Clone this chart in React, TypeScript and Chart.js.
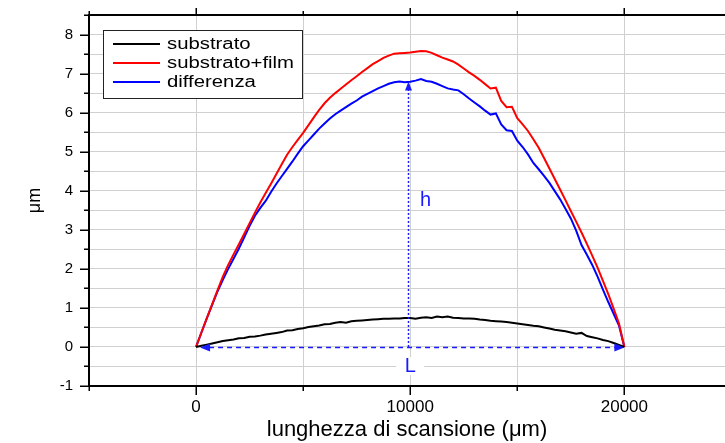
import React, { useEffect, useRef } from "react";
import { Chart, registerables } from "chart.js";

Chart.register(...registerables);

const FONT = "'Liberation Sans', Arial, Helvetica, sans-serif";

// scan positions (µm)
const scanX = [
  0, 250, 500, 750, 1000, 1250, 1500, 1750, 2000, 2250,
  2500, 2750, 3000, 3250, 3500, 3750, 4000, 4250, 4500, 4750,
  5000, 5250, 5500, 5750, 6000, 6250, 6500, 6750, 7000, 7250,
  7500, 7750, 8000, 8250, 8500, 8750, 9000, 9250, 9500, 9750,
  10000, 10250, 10500, 10750, 11000, 11250, 11500, 11750, 12000, 12250,
  12500, 12750, 13000, 13250, 13500, 13750, 14000, 14250, 14500, 14750,
  15000, 15250, 15500, 15750, 16000, 16250, 16500, 16750, 17000, 17250,
  17500, 17750, 18000, 18250, 18500, 18750, 19000, 19250, 19500, 19750,
  20000,
];

const substrato = [
  0.00, 0.03, 0.06, 0.09, 0.12, 0.15, 0.17, 0.19, 0.22, 0.23,
  0.26, 0.27, 0.29, 0.32, 0.34, 0.36, 0.38, 0.42, 0.43, 0.46,
  0.48, 0.51, 0.53, 0.55, 0.58, 0.59, 0.62, 0.64, 0.62, 0.66,
  0.67, 0.68, 0.69, 0.70, 0.71, 0.72, 0.72, 0.73, 0.73, 0.74,
  0.74, 0.72, 0.75, 0.76, 0.74, 0.78, 0.76, 0.78, 0.75, 0.74,
  0.73, 0.73, 0.72, 0.70, 0.69, 0.67, 0.66, 0.65, 0.64, 0.62,
  0.60, 0.58, 0.56, 0.54, 0.53, 0.50, 0.47, 0.44, 0.42, 0.40,
  0.37, 0.34, 0.36, 0.28, 0.25, 0.22, 0.18, 0.15, 0.10, 0.05,
  0.00,
];

const substratoFilm = [
  0.00, 0.37, 0.73, 1.09, 1.45, 1.80, 2.10, 2.37, 2.63, 2.90,
  3.17, 3.44, 3.70, 3.94, 4.18, 4.43, 4.68, 4.92, 5.12, 5.30,
  5.48, 5.68, 5.88, 6.07, 6.24, 6.38, 6.50, 6.61, 6.72, 6.83,
  6.93, 7.04, 7.14, 7.24, 7.32, 7.40, 7.46, 7.51, 7.52, 7.53,
  7.54, 7.56, 7.58, 7.57, 7.53, 7.47, 7.41, 7.36, 7.31, 7.23,
  7.13, 7.03, 6.94, 6.84, 6.73, 6.62, 6.64, 6.30, 6.14, 6.15,
  5.86, 5.70, 5.53, 5.32, 5.10, 4.84, 4.57, 4.30, 4.03, 3.76,
  3.48, 3.21, 2.93, 2.64, 2.34, 2.03, 1.69, 1.35, 0.98, 0.60,
  0.00,
];

const differenza = [
  0.00, 0.37, 0.73, 1.08, 1.42, 1.72, 2.00, 2.26, 2.52, 2.81,
  3.10, 3.36, 3.56, 3.74, 3.97, 4.18, 4.37, 4.56, 4.75, 4.95,
  5.14, 5.29, 5.44, 5.59, 5.72, 5.85, 5.96, 6.05, 6.14, 6.23,
  6.31, 6.41, 6.48, 6.55, 6.62, 6.68, 6.74, 6.78, 6.80, 6.78,
  6.79, 6.82, 6.86, 6.81, 6.79, 6.74, 6.68, 6.62, 6.59, 6.57,
  6.47, 6.36, 6.26, 6.16, 6.05, 5.95, 5.98, 5.70, 5.55, 5.53,
  5.28, 5.12, 4.93, 4.71, 4.55, 4.38, 4.20, 3.99, 3.78, 3.54,
  3.29, 2.98, 2.61, 2.36, 2.10, 1.80, 1.47, 1.15, 0.85, 0.55,
  0.00,
];

const seriesLabels = ["substrato", "substrato+film", "differenza"];
const seriesColors = ["#000000", "#ff0000", "#0000ff"];
const seriesValues = [substrato, substratoFilm, differenza];

const xTickValues = [-5000, 0, 5000, 10000, 15000, 20000];
const xTickLabels = [0, 10000, 20000];
const xMin = -5000;
const xMax = 24700;
const yMin = -1;
const yMax = 8.5;

// annotation anchors (data units)
const lengthArrow = [0, 20000];
const heightArrow = [9900, 0, 6.8];
const hLabel = [10720, 3.76];
const lLabel = [10000, -0.49];

const ANNOT_BLUE = "#1a1aff";

function arrowHead(ctx: CanvasRenderingContext2D, tipX: number, tipY: number, dx: number, dy: number, len: number, half: number) {
  const bx = tipX - dx * len;
  const by = tipY - dy * len;
  const px = -dy;
  const py = dx;
  ctx.beginPath();
  ctx.moveTo(tipX, tipY);
  ctx.lineTo(bx + px * half, by + py * half);
  ctx.lineTo(bx - px * half, by - py * half);
  ctx.closePath();
  ctx.fill();
}

const decorPlugin = {
  id: "decor",
  afterDatasetsDraw(chart: any) {
    const { ctx, scales } = chart;
    const xs = scales.x;
    const ys = scales.y;
    ctx.save();
    ctx.strokeStyle = ANNOT_BLUE;
    ctx.fillStyle = ANNOT_BLUE;
    ctx.lineWidth = 1.5;

    // L: horizontal dashed double arrow
    const yL = Math.round(ys.getPixelForValue(0)) + 0.5;
    const xa = xs.getPixelForValue(lengthArrow[0]) + 4;
    const xb = xs.getPixelForValue(lengthArrow[1]);
    ctx.setLineDash([5, 4]);
    ctx.beginPath();
    ctx.moveTo(xa + 9, yL);
    ctx.lineTo(xb - 9, yL);
    ctx.stroke();
    ctx.setLineDash([]);
    arrowHead(ctx, xa, yL, -1, 0, 10, 4);
    arrowHead(ctx, xb, yL, 1, 0, 10, 4);

    // h: vertical dotted arrow
    const xh = Math.round(xs.getPixelForValue(heightArrow[0])) + 0.5;
    const yh0 = ys.getPixelForValue(heightArrow[1]);
    const yh1 = ys.getPixelForValue(heightArrow[2]);
    ctx.setLineDash([2, 2]);
    ctx.beginPath();
    ctx.moveTo(xh, yh0);
    ctx.lineTo(xh, yh1 + 8);
    ctx.stroke();
    ctx.setLineDash([]);
    arrowHead(ctx, xh, yh1, 0, -1, 9, 3.5);

    // labels
    ctx.font = `20px ${FONT}`;
    ctx.textAlign = "center";
    ctx.textBaseline = "middle";
    ctx.fillText("h", xs.getPixelForValue(hLabel[0]), ys.getPixelForValue(hLabel[1]));
    const lx = xs.getPixelForValue(lLabel[0]);
    const ly = ys.getPixelForValue(lLabel[1]);
    ctx.fillStyle = "#ffffff";
    ctx.fillRect(lx - 14, ly - 9, 28, 18);
    ctx.fillStyle = ANNOT_BLUE;
    ctx.fillText("L", lx, ly);
    ctx.restore();
  },
  afterDraw(chart: any) {
    const { ctx, chartArea: a, scales } = chart;
    const xs = scales.x;
    const ys = scales.y;
    ctx.save();
    ctx.strokeStyle = "#000000";
    ctx.lineWidth = 2;
    ctx.beginPath();
    ctx.moveTo(a.left, a.top);
    ctx.lineTo(a.right, a.top);
    ctx.moveTo(a.left, a.top - 1);
    ctx.lineTo(a.left, a.bottom + 1);
    ctx.moveTo(a.left, a.bottom);
    ctx.lineTo(a.right, a.bottom);
    ctx.stroke();

    ctx.lineWidth = 1.5;
    ctx.beginPath();
    for (const t of ys.ticks) {
      const v = t.value;
      const py = Math.round(ys.getPixelForValue(v)) + 0.25;
      const len = Number.isInteger(v) ? 9 : 5;
      ctx.moveTo(a.left - len, py);
      ctx.lineTo(a.left, py);
    }
    for (const v of xTickValues) {
      const px = Math.round(xs.getPixelForValue(v)) + 0.25;
      const major = xTickLabels.includes(v);
      const lb = major ? 9 : 5;
      const lt = major ? 7 : 4;
      ctx.moveTo(px, a.bottom);
      ctx.lineTo(px, a.bottom + lb);
      ctx.moveTo(px, a.top);
      ctx.lineTo(px, a.top - lt);
    }
    ctx.stroke();

    // legend
    const lx = a.left + 14;
    const ly = a.top + 15;
    const lw = 199;
    const lh = 68;
    ctx.fillStyle = "#ffffff";
    ctx.fillRect(lx, ly, lw, lh);
    ctx.strokeStyle = "#222222";
    ctx.lineWidth = 1;
    ctx.strokeRect(lx + 0.5, ly + 0.5, lw, lh);
    chart.data.datasets.forEach((ds: any, i: number) => {
      const ry = ly + 14 + i * 19;
      ctx.strokeStyle = ds.borderColor;
      ctx.lineWidth = 2;
      ctx.beginPath();
      ctx.moveTo(lx + 10, ry);
      ctx.lineTo(lx + 57, ry);
      ctx.stroke();
      ctx.save();
      ctx.translate(lx + 64, ry);
      ctx.scale(1.27, 1);
      ctx.fillStyle = "#000000";
      ctx.font = `16px ${FONT}`;
      ctx.textAlign = "left";
      ctx.textBaseline = "middle";
      ctx.fillText(ds.label, 0, 1);
      ctx.restore();
    });
    ctx.restore();
  },
};

export default function App() {
  const canvasRef = useRef<HTMLCanvasElement | null>(null);

  useEffect(() => {
    if (!canvasRef.current) return;
    Chart.defaults.font.family = FONT;
    const datasets = seriesLabels.map((label, i) => ({
      label,
      data: scanX.map((x, j) => ({ x, y: seriesValues[i][j] })),
      borderColor: seriesColors[i],
      backgroundColor: seriesColors[i],
      borderWidth: 2,
      pointRadius: 0,
      tension: 0,
      fill: false,
    }));
    const chart = new Chart(canvasRef.current, {
      type: "line",
      data: { datasets },
      options: {
        animation: false,
        responsive: false,
        maintainAspectRatio: false,
        layout: { padding: { top: 15, left: 0, right: 0, bottom: 0 } },
        plugins: {
          legend: { display: false },
          tooltip: { enabled: false },
        },
        scales: {
          x: {
            type: "linear",
            min: xMin,
            max: xMax,
            afterBuildTicks: (s: any) => {
              s.ticks = xTickValues.map((v) => ({ value: v }));
            },
            afterFit: (s: any) => {
              s.height = 57;
              s.paddingLeft = 0;
              s.paddingRight = 0;
            },
            grid: { color: "#d0d0d0", lineWidth: 1, drawTicks: false },
            border: { display: false },
            ticks: {
              autoSkip: false,
              maxRotation: 0,
              padding: 11,
              color: "#000000",
              font: { size: 17, family: FONT },
              callback: (v: any) => (xTickLabels.includes(Number(v)) ? String(v) : ""),
            },
            title: {
              display: true,
              text: "lunghezza di scansione (μm)",
              color: "#000000",
              font: { size: 22, family: FONT },
              padding: { top: 0, bottom: 0 },
            },
          },
          y: {
            type: "linear",
            min: yMin,
            max: yMax,
            afterFit: (s: any) => {
              s.width = 89;
              s.paddingTop = 0;
              s.paddingBottom = 0;
            },
            grid: { color: "#d0d0d0", lineWidth: 1, drawTicks: false },
            border: { display: false },
            ticks: {
              stepSize: 0.5,
              autoSkip: false,
              padding: 16,
              color: "#000000",
              font: { size: 15, family: FONT },
              callback: (v: any) => (Number.isInteger(Number(v)) ? String(v) : ""),
            },
            title: {
              display: true,
              text: "μm",
              color: "#000000",
              font: { size: 18, family: FONT },
              padding: { top: 24, bottom: 0 },
            },
          },
        },
      },
      plugins: [decorPlugin],
    });
    return () => chart.destroy();
  }, []);

  return (
    <div style={{ position: "absolute", left: 0, top: 0, width: 725, height: 443, background: "#ffffff" }}>
      <canvas ref={canvasRef} width={725} height={443} style={{ display: "block" }} />
    </div>
  );
}
